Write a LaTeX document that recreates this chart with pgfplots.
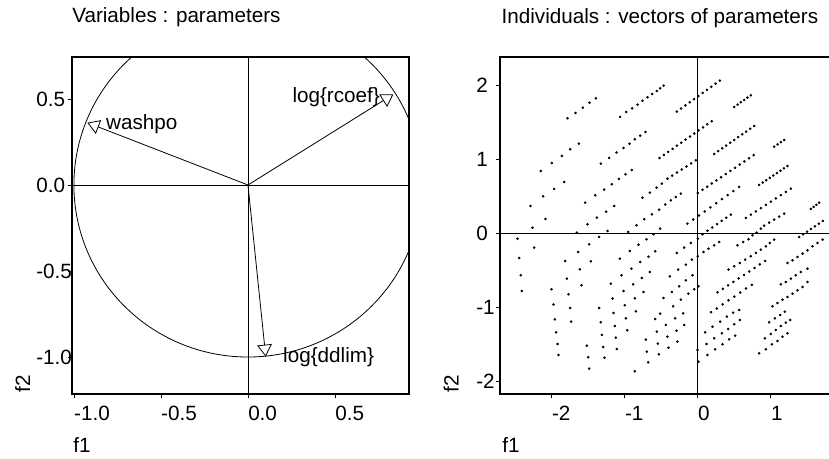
\documentclass[border=0pt]{standalone}
\usepackage{fontspec}
\setmainfont{Liberation Sans}
\usepackage{pgfplots}
\pgfplotsset{compat=1.18}
\usetikzlibrary{arrows.meta}
\newcommand{\lbl}{\fontsize{15.5}{18}\selectfont}
\pgfplotsset{
  myaxis/.style={
    scale only axis,
    axis line style={line width=0.8pt},
    tick align=outside,
    xtick pos=bottom, ytick pos=left,
    major tick length=3pt,
    tick style={line width=0.6pt, black},
    ticklabel style={font=\lbl},
    xticklabel style={anchor=north west, inner sep=0pt, xshift=0pt, yshift=-6pt},
    yticklabel style={anchor=west, inner sep=0pt},
    clip=true,
  }
}
\begin{document}
\begin{tikzpicture}
% ---------------- left panel ----------------
\begin{axis}[myaxis,
  at={(54pt,48pt)}, anchor=south west,
  width=252.75pt, height=252.75pt,
  xmin=-1.011, xmax=0.925, ymin=-1.215, ymax=0.744,
  xtick={-1,-0.5,0,0.5}, xticklabels={-1.0,-0.5,0.0,0.5},
  ytick={-1,-0.5,0,0.5}, yticklabels={-1.0,-0.5,0.0,0.5},
  yticklabel style={xshift=-24pt},
]
\draw[line width=0.6pt] (axis cs:0,-1.215) -- (axis cs:0,0.744);
\draw[line width=0.6pt] (axis cs:-1.011,0) -- (axis cs:0.925,0);
\draw[line width=0.6pt] (axis cs:0,0) ellipse [x radius=1, y radius=1];
\addplot[line width=0.6pt, -{Triangle[open, length=9pt, width=11pt, line width=0.6pt]}] coordinates {(0,0) (-0.923,0.362)};
\addplot[line width=0.6pt, -{Triangle[open, length=9pt, width=11pt, line width=0.6pt]}] coordinates {(0,0) (0.835,0.527)};
\addplot[line width=0.6pt, -{Triangle[open, length=9pt, width=11pt, line width=0.6pt]}] coordinates {(0,0) (0.102,-0.998)};
\node[font=\lbl, anchor=west, inner sep=0pt] at (axis cs:-0.816,0.355) {washpo};
\node[font=\lbl, anchor=east, inner sep=0pt] at (axis cs:0.759,0.512) {log\{rcoef\}};
\node[font=\lbl, anchor=west, inner sep=0pt] at (axis cs:0.201,-1.0) {log\{ddlim\}};
\end{axis}
% ---------------- right panel ----------------
\begin{axis}[myaxis,
  at={(375pt,48pt)}, anchor=south west,
  width=251.25pt, height=252.75pt,
  xmin=-2.71, xmax=1.879, ymin=-2.176, ymax=2.378,
  xtick={-2,-1,0,1}, xticklabels={-2,-1,0,1},
  ytick={-2,-1,0,1,2}, yticklabels={-2,-1,0,1,2},
  yticklabel style={xshift=-15pt},
]
\draw[line width=0.6pt] (axis cs:0,-2.176) -- (axis cs:0,2.378);
\draw[line width=0.6pt] (axis cs:-2.71,0) -- (axis cs:1.879,0);
\addplot[only marks, mark=*, mark size=0.75pt, black] coordinates {
(-1.785,1.550) (-1.676,1.622) (-1.575,1.694) (-1.484,1.761) (-1.397,1.820)
(-1.064,1.568) (-0.982,1.635) (-0.900,1.685) (-0.826,1.734) (-0.758,1.788) (-0.689,1.833) (-0.626,1.878) (-0.562,1.919) (-0.516,1.955) (-0.470,1.991)
(-0.288,1.640) (-0.229,1.682) (-0.170,1.724) (-0.111,1.766) (-0.052,1.808) (0.007,1.850) (0.066,1.892) (0.125,1.934) (0.184,1.976) (0.243,2.018) (0.301,2.059)
(0.498,1.703) (0.544,1.734) (0.589,1.766) (0.635,1.797) (0.680,1.829) (0.726,1.860)
(-2.151,0.838) (-2.000,0.946) (-1.863,1.041) (-1.749,1.131) (-1.630,1.207)
(-1.329,0.937) (-1.215,1.014) (-1.114,1.086) (-1.018,1.149) (-0.936,1.207) (-0.863,1.266) (-0.790,1.315) (-0.717,1.365)
(-0.525,1.013) (-0.465,1.054) (-0.406,1.096) (-0.346,1.137) (-0.287,1.179) (-0.227,1.220) (-0.168,1.262) (-0.108,1.303) (-0.048,1.344) (0.011,1.386) (0.071,1.427) (0.130,1.469) (0.190,1.510)
(0.224,1.068) (0.279,1.106) (0.334,1.144) (0.388,1.181) (0.443,1.219) (0.498,1.257) (0.553,1.295) (0.608,1.333) (0.662,1.370) (0.717,1.408) (0.772,1.446)
(1.046,1.167) (1.092,1.197) (1.137,1.227) (1.183,1.257)
(-2.292,0.365) (-2.119,0.495) (-1.968,0.595) (-1.831,0.689)
(-1.543,0.410) (-1.406,0.509) (-1.283,0.586) (-1.178,0.658) (-1.082,0.730) (-0.991,0.793) (-0.904,0.851)
(-0.758,0.477) (-0.658,0.545) (-0.566,0.613) (-0.493,0.667) (-0.416,0.734) (-0.351,0.775) (-0.286,0.817) (-0.221,0.858) (-0.156,0.899) (-0.092,0.940) (-0.027,0.982)
(0.000,0.540) (0.064,0.583) (0.128,0.625) (0.191,0.668) (0.255,0.711) (0.319,0.753) (0.383,0.796) (0.446,0.839) (0.510,0.881) (0.574,0.924) (0.638,0.967) (0.701,1.009) (0.765,1.052)
(0.840,0.649) (0.889,0.681) (0.937,0.713) (0.986,0.745) (1.034,0.777) (1.083,0.809) (1.131,0.841) (1.180,0.873) (1.228,0.905)
(1.548,0.325) (1.586,0.352) (1.624,0.380) (1.662,0.410)
(-2.265,0.072) (-2.087,0.189)
(-1.511,0.117) (-1.384,0.207) (-1.256,0.288) (-1.146,0.365)
(-0.840,0.104) (-0.735,0.185) (-0.630,0.252) (-0.530,0.315) (-0.445,0.385) (-0.370,0.441) (-0.301,0.486) (-0.233,0.532)
(-0.142,0.126) (-0.063,0.181) (0.015,0.236) (0.094,0.291) (0.173,0.346) (0.251,0.402) (0.330,0.457) (0.409,0.512) (0.487,0.567) (0.566,0.622)
(0.658,0.203) (0.726,0.247) (0.795,0.291) (0.863,0.335) (0.932,0.379) (1.000,0.423) (1.069,0.467) (1.137,0.511) (1.206,0.555) (1.274,0.599)
(0.543,-0.167) (0.621,-0.122) (0.694,-0.086) (0.749,-0.032) (0.804,0.005) (0.863,0.059) (0.909,0.099) (0.977,0.140) (1.046,0.180) (1.114,0.221) (1.183,0.261)
(1.388,-0.054) (1.442,-0.018) (1.496,0.018) (1.550,0.054) (1.604,0.090) (1.658,0.126) (1.712,0.162)
(-0.288,-0.270) (-0.187,-0.198) (-0.096,-0.135) (0.000,-0.077) (0.064,-0.018) (0.132,0.030) (0.198,0.075) (0.263,0.120) (0.327,0.164) (0.390,0.206) (0.452,0.248)
(-0.384,-0.586) (-0.269,-0.495) (-0.164,-0.428) (-0.082,-0.360) (0.000,-0.315) (0.078,-0.257) (0.146,-0.212) (0.224,-0.167) (0.292,-0.122)
(-0.356,-0.797) (-0.256,-0.721) (-0.164,-0.640) (-0.073,-0.572)
(-0.338,-0.991) (-0.233,-0.901) (-0.130,-0.820) (-0.050,-0.760) (0.009,-0.721)
(0.420,-0.495) (0.498,-0.450) (0.575,-0.405) (0.648,-0.360) (0.726,-0.315) (0.795,-0.270) (0.863,-0.225) (0.932,-0.180) (0.986,-0.135) (1.046,-0.090)
(0.269,-0.802) (0.342,-0.755) (0.414,-0.708) (0.487,-0.661) (0.559,-0.614) (0.632,-0.567) (0.704,-0.520) (0.777,-0.473) (0.849,-0.425) (0.922,-0.378)
(0.180,-1.070) (0.260,-1.020) (0.340,-0.965) (0.420,-0.910) (0.500,-0.860) (0.580,-0.805) (0.660,-0.750) (0.740,-0.700)
(1.228,-0.405) (1.297,-0.369) (1.365,-0.324) (1.434,-0.279) (1.502,-0.234) (1.571,-0.180) (1.639,-0.135) (1.708,-0.090)
(1.137,-0.694) (1.205,-0.662) (1.274,-0.617) (1.342,-0.572) (1.411,-0.527) (1.502,-0.482)
(1.023,-0.991) (1.091,-0.946) (1.160,-0.901) (1.228,-0.865) (1.297,-0.820) (1.365,-0.775) (1.434,-0.730) (1.502,-0.662)
(0.100,-1.342) (0.201,-1.266) (0.306,-1.198) (0.397,-1.131) (0.484,-1.077) (0.566,-1.041)
(0.119,-1.500) (0.224,-1.423) (0.329,-1.356) (0.416,-1.297) (0.498,-1.234) (0.575,-1.176)
(0.132,-1.649) (0.237,-1.572) (0.338,-1.505) (0.429,-1.437) (0.511,-1.387)
(0.977,-1.207) (1.055,-1.153) (1.128,-1.108) (1.192,-1.063)
(0.918,-1.423) (1.000,-1.365) (1.068,-1.311) (1.137,-1.257) (1.205,-1.212) (1.265,-1.176)
(0.840,-1.626) (0.932,-1.572) (1.014,-1.505) (1.091,-1.459) (1.160,-1.401) (1.228,-1.356)
(-0.005,-1.581) (0.009,-1.739)
(-2.470,-0.077) (-2.447,-0.338) (-2.425,-0.572) (-2.411,-0.784)
(-2.242,-0.198)
(-2.005,-0.761) (-1.977,-0.968) (-1.959,-1.167) (-1.941,-1.342) (-1.922,-1.500) (-1.909,-1.649)
(-1.817,-0.378) (-1.795,-0.617) (-1.772,-0.829) (-1.749,-1.014) (-1.735,-1.198)
(-1.658,0.005) (-1.639,-0.257) (-1.616,-0.491) (-1.594,-0.707)
(-1.489,-0.153) (-1.466,-0.383)
(-1.521,-1.523) (-1.502,-1.680) (-1.489,-1.833)
(-1.352,-0.054)
(-1.352,-1.014) (-1.329,-1.207) (-1.315,-1.378) (-1.297,-1.541) (-1.279,-1.685)
(-1.237,0.027) (-1.192,-0.685) (-1.169,-0.887) (-1.155,-1.081) (-1.137,-1.257) (-1.123,-1.414) (-1.110,-1.568)
(-1.068,-0.347) (-1.046,-0.572) (-1.018,-0.784) (-1.000,-0.977) (-0.986,-1.153) (-0.968,-1.315)
(-0.954,0.014) (-0.932,-0.243) (-0.909,-0.482) (-0.886,-0.694) (-0.863,-0.883) (-0.849,-1.059)
(-0.863,-1.869)
(-0.813,-0.158) (-0.790,-0.392) (-0.767,-0.608) (-0.744,-0.797)
(-0.703,-0.086) (-0.676,-0.320) (-0.658,-0.527)
(-0.712,-1.441) (-0.699,-1.604) (-0.680,-1.748)
(-0.584,-0.248) (-0.584,-1.162) (-0.562,-1.333) (-0.548,-1.495) (-0.534,-1.640)
(-0.607,-0.018) (-0.516,0.059) (-0.470,-0.878) (-0.516,-1.090)
(-0.438,-1.243) (-0.416,-1.401) (-0.402,-1.550)
(-0.311,-1.153) (-0.292,-1.320) (-0.279,-1.468)
(-0.201,-1.086) (-0.187,-1.243)
};
\end{axis}
% ---------------- titles and axis names ----------------
\node[font=\lbl, anchor=base west, inner sep=0pt] at (54pt,326.25pt) {Variables : parameters};
\node[font=\lbl, anchor=base west, inner sep=0pt] at (376pt,325.5pt) {Individuals : vectors of parameters};
\node[font=\lbl, anchor=base west, inner sep=0pt] at (54.75pt,4.5pt) {f1};
\node[font=\lbl, anchor=base west, inner sep=0pt] at (376.5pt,4.5pt) {f1};
\node[font=\lbl, anchor=base west, inner sep=0pt, rotate=90] at (22.5pt,48.75pt) {f2};
\node[font=\lbl, anchor=base west, inner sep=0pt, rotate=90] at (344pt,48.75pt) {f2};
\pgfresetboundingbox
\useasboundingbox (0,0) rectangle (621.75pt,343.5pt);
\end{tikzpicture}
\end{document}
